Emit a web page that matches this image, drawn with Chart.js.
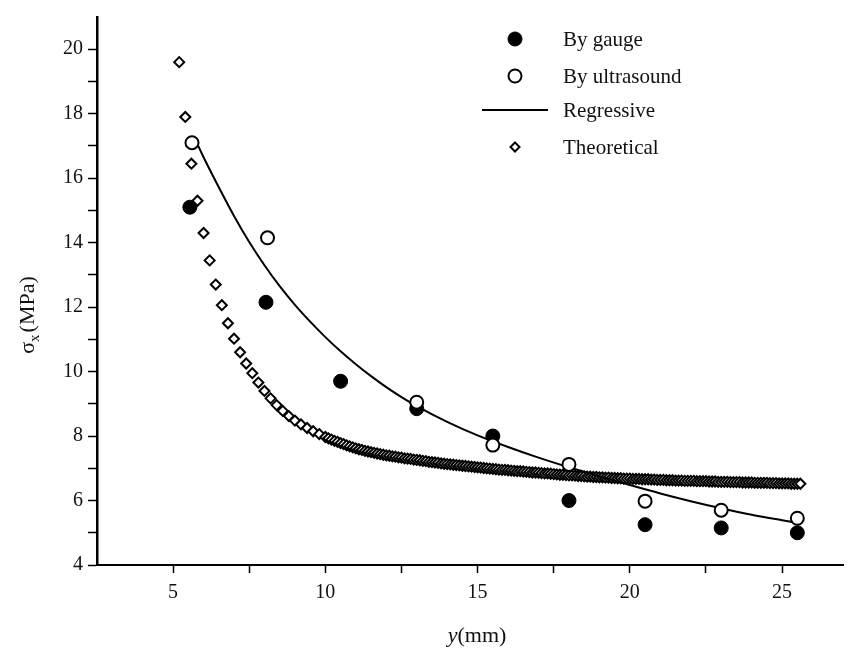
<!DOCTYPE html>
<html lang="en">
<head>
<meta charset="UTF-8">
<title>Stress distribution</title>
<script src="https://cdn.jsdelivr.net/npm/chart.js"></script>
<style>
  html, body { margin: 0; padding: 0; background: #fff; }
</style>
</head>
<body>
<canvas id="stressChart" width="854" height="661"></canvas>
<script>
// measured values
const gaugeX = [5.55, 8.05, 10.5, 13, 15.5, 18, 20.5, 23, 25.5];
const gaugeY = [15.1, 12.15, 9.7, 8.85, 8.0, 6.0, 5.25, 5.15, 5.0];
const ultraX = [5.62, 8.1, 13, 15.5, 18, 20.5, 23, 25.5];
const ultraY = [17.1, 14.15, 9.05, 7.72, 7.12, 5.98, 5.7, 5.45];

// regression curve
const regX = [5.8, 6.0, 6.5, 7.0, 7.5, 8.0, 8.5, 9.0, 9.5, 10.0, 10.5, 11.0, 11.5, 12.0, 12.5, 13, 14, 15, 16, 17, 18, 19, 20, 21, 22, 23, 24, 25, 25.5];
const regY = [17.05, 16.65, 15.72, 14.83, 14.02, 13.3, 12.65, 12.07, 11.55, 11.07, 10.63, 10.23, 9.86, 9.52, 9.21, 8.93, 8.44, 8.02, 7.66, 7.33, 7.03, 6.75, 6.48, 6.22, 5.98, 5.76, 5.56, 5.39, 5.31];

// theoretical curve points
const theoX = [
  5.2, 5.4, 5.6, 5.8, 6.0, 6.2, 6.4, 6.6, 6.8, 7.0, 7.2, 7.4, 7.6, 7.8, 8.0, 8.2, 8.4, 8.6, 8.8, 9.0, 9.2, 9.4, 9.6, 9.8, 10.0,
  10.1, 10.2, 10.3, 10.4, 10.5, 10.6, 10.7, 10.8, 10.9, 11.0,
  11.1, 11.2, 11.3, 11.4, 11.5, 11.6, 11.7, 11.8, 11.9, 12.0,
  12.1, 12.2, 12.3, 12.4, 12.5, 12.6, 12.7, 12.8, 12.9, 13.0,
  13.1, 13.2, 13.3, 13.4, 13.5, 13.6, 13.7, 13.8, 13.9, 14.0,
  14.1, 14.2, 14.3, 14.4, 14.5, 14.6, 14.7, 14.8, 14.9, 15.0,
  15.1, 15.2, 15.3, 15.4, 15.5, 15.6, 15.7, 15.8, 15.9, 16.0,
  16.1, 16.2, 16.3, 16.4, 16.5, 16.6, 16.7, 16.8, 16.9, 17.0,
  17.1, 17.2, 17.3, 17.4, 17.5, 17.6, 17.7, 17.8, 17.9, 18.0,
  18.1, 18.2, 18.3, 18.4, 18.5, 18.6, 18.7, 18.8, 18.9, 19.0,
  19.1, 19.2, 19.3, 19.4, 19.5, 19.6, 19.7, 19.8, 19.9, 20.0,
  20.1, 20.2, 20.3, 20.4, 20.5, 20.6, 20.7, 20.8, 20.9, 21.0,
  21.1, 21.2, 21.3, 21.4, 21.5, 21.6, 21.7, 21.8, 21.9, 22.0,
  22.1, 22.2, 22.3, 22.4, 22.5, 22.6, 22.7, 22.8, 22.9, 23.0,
  23.1, 23.2, 23.3, 23.4, 23.5, 23.6, 23.7, 23.8, 23.9, 24.0,
  24.1, 24.2, 24.3, 24.4, 24.5, 24.6, 24.7, 24.8, 24.9, 25.0,
  25.1, 25.2, 25.3, 25.4, 25.5, 25.6
];
const theoY = [
  19.6, 17.9, 16.45, 15.3, 14.3, 13.45, 12.7, 12.06, 11.5, 11.02, 10.6, 10.25, 9.95, 9.66, 9.4, 9.17, 8.96, 8.78, 8.62, 8.48, 8.36, 8.25, 8.15, 8.06, 7.97,
  7.93, 7.89, 7.85, 7.82, 7.78, 7.75, 7.71, 7.68, 7.65, 7.62,
  7.59, 7.57, 7.54, 7.52, 7.50, 7.48, 7.46, 7.44, 7.42, 7.40,
  7.39, 7.37, 7.36, 7.34, 7.33, 7.31, 7.30, 7.29, 7.27, 7.26,
  7.25, 7.23, 7.22, 7.20, 7.19, 7.18, 7.17, 7.15, 7.14, 7.13,
  7.12, 7.11, 7.10, 7.09, 7.08, 7.07, 7.06, 7.05, 7.04, 7.03,
  7.02, 7.01, 7.00, 6.99, 6.98, 6.97, 6.96, 6.95, 6.95, 6.94,
  6.93, 6.92, 6.91, 6.91, 6.90, 6.89, 6.88, 6.87, 6.87, 6.86,
  6.85, 6.84, 6.84, 6.83, 6.82, 6.81, 6.80, 6.80, 6.79, 6.78,
  6.78, 6.77, 6.76, 6.76, 6.75, 6.74, 6.74, 6.73, 6.73, 6.72,
  6.72, 6.71, 6.71, 6.70, 6.70, 6.69, 6.69, 6.68, 6.68, 6.68,
  6.67, 6.67, 6.67, 6.66, 6.66, 6.66, 6.65, 6.65, 6.64, 6.64,
  6.64, 6.63, 6.63, 6.63, 6.62, 6.62, 6.62, 6.61, 6.61, 6.61,
  6.61, 6.60, 6.60, 6.60, 6.60, 6.59, 6.59, 6.59, 6.58, 6.58,
  6.58, 6.58, 6.57, 6.57, 6.57, 6.57, 6.56, 6.56, 6.56, 6.56,
  6.55, 6.55, 6.55, 6.55, 6.55, 6.54, 6.54, 6.54, 6.53, 6.53,
  6.53, 6.53, 6.52, 6.52, 6.52, 6.52
];

// axis ticks
const xTicks = [5, 7.5, 10, 12.5, 15, 17.5, 20, 22.5, 25];
const yTicks = [4, 5, 6, 7, 8, 9, 10, 11, 12, 13, 14, 15, 16, 17, 18, 19, 20];

const SERIF = "'Liberation Serif', 'Times New Roman', serif";

function pts(xs, ys) {
  return xs.map((x, i) => ({ x: x, y: ys[i] }));
}

// axis titles + legend drawn inside the plot
const extras = {
  id: 'extras',
  afterDraw(chart) {
    const c = chart.ctx;
    c.save();
    c.fillStyle = '#111';
    c.textBaseline = 'middle';

    // y title: sigma_x (MPa), rotated
    c.save();
    c.translate(28, 315);
    c.rotate(-Math.PI / 2);
    c.font = '22px ' + SERIF;
    const wSig = c.measureText('σ').width;
    const wPar = c.measureText('(MPa)').width;
    c.font = '15px ' + SERIF;
    const wSub = c.measureText('x').width;
    let sx = -(wSig + wSub + wPar + 2) / 2;
    c.font = '22px ' + SERIF;
    c.textAlign = 'left';
    c.fillText('σ', sx, 0);
    c.font = '15px ' + SERIF;
    c.fillText('x', sx + wSig, 7);
    c.font = '22px ' + SERIF;
    c.fillText('(MPa)', sx + wSig + wSub + 2, 0);
    c.restore();

    // x title: y(mm)
    c.font = 'italic 22px ' + SERIF;
    const wy = c.measureText('y').width;
    c.font = '22px ' + SERIF;
    const wmm = c.measureText('(mm)').width;
    let tx = 477 - (wy + wmm) / 2;
    c.textAlign = 'left';
    c.font = 'italic 22px ' + SERIF;
    c.fillText('y', tx, 636);
    c.font = '22px ' + SERIF;
    c.fillText('(mm)', tx + wy, 636);

    // legend
    const rows = [39, 76, 110, 147];
    const mx = 515, textX = 563;
    chart.data.datasets.forEach((ds, i) => {
      const yy = rows[i];
      c.lineWidth = ds.borderWidth;
      c.strokeStyle = '#000';
      c.fillStyle = ds.backgroundColor || '#000';
      if (ds.showLine) {
        c.beginPath();
        c.moveTo(482, yy);
        c.lineTo(548, yy);
        c.stroke();
      } else if (ds.pointStyle === 'rectRot') {
        const r = ds.pointRadius - 0.5;
        c.beginPath();
        c.moveTo(mx, yy - r);
        c.lineTo(mx + r, yy);
        c.lineTo(mx, yy + r);
        c.lineTo(mx - r, yy);
        c.closePath();
        c.fill();
        c.stroke();
      } else {
        c.beginPath();
        c.arc(mx, yy, ds.pointRadius, 0, Math.PI * 2);
        c.fill();
        c.stroke();
      }
      c.fillStyle = '#111';
      c.font = '21px ' + SERIF;
      c.fillText(ds.label, textX, yy + 1);
    });
    c.restore();
  }
};

new Chart(document.getElementById('stressChart'), {
  type: 'scatter',
  data: {
    datasets: [
      {
        label: 'By gauge',
        data: pts(gaugeX, gaugeY),
        pointStyle: 'circle',
        pointRadius: 7,
        backgroundColor: '#000',
        borderColor: '#000',
        borderWidth: 1,
        order: 3
      },
      {
        label: 'By ultrasound',
        data: pts(ultraX, ultraY),
        pointStyle: 'circle',
        pointRadius: 6.5,
        backgroundColor: '#fff',
        borderColor: '#000',
        borderWidth: 2,
        order: 0
      },
      {
        label: 'Regressive',
        data: pts(regX, regY),
        showLine: true,
        pointRadius: 0,
        borderColor: '#000',
        borderWidth: 2,
        cubicInterpolationMode: 'monotone',
        order: 1
      },
      {
        label: 'Theoretical',
        data: pts(theoX, theoY),
        pointStyle: 'rectRot',
        pointRadius: 5,
        backgroundColor: '#fff',
        borderColor: '#000',
        borderWidth: 2,
        order: 2
      }
    ]
  },
  options: {
    responsive: false,
    animation: false,
    layout: { padding: { top: 12, right: 11, left: 0, bottom: 0 } },
    plugins: {
      legend: { display: false },
      tooltip: { enabled: false }
    },
    scales: {
      x: {
        type: 'linear',
        min: 2.5,
        max: 27,
        afterBuildTicks: s => { s.ticks = xTicks.map(v => ({ value: v })); },
        afterFit: s => { s.height = 96; },
        ticks: {
          callback: v => (v % 5 === 0 ? v : ''),
          font: { family: SERIF, size: 20 },
          color: '#111',
          padding: 8,
          maxRotation: 0,
          autoSkip: false
        },
        grid: { drawOnChartArea: false, tickLength: 8, tickColor: '#000', tickWidth: 1.5 },
        border: { color: '#000', width: 2 }
      },
      y: {
        type: 'linear',
        min: 4,
        max: 21,
        afterBuildTicks: s => { s.ticks = yTicks.map(v => ({ value: v })); },
        afterFit: s => { s.width = 97; },
        ticks: {
          callback: v => (v % 2 === 0 ? v : ''),
          font: { family: SERIF, size: 20 },
          color: '#111',
          padding: 5,
          autoSkip: false
        },
        grid: { drawOnChartArea: false, tickLength: 9, tickColor: '#000', tickWidth: 1.5 },
        border: { color: '#000', width: 2.5 }
      }
    }
  },
  plugins: [extras]
});
</script>
</body>
</html>
